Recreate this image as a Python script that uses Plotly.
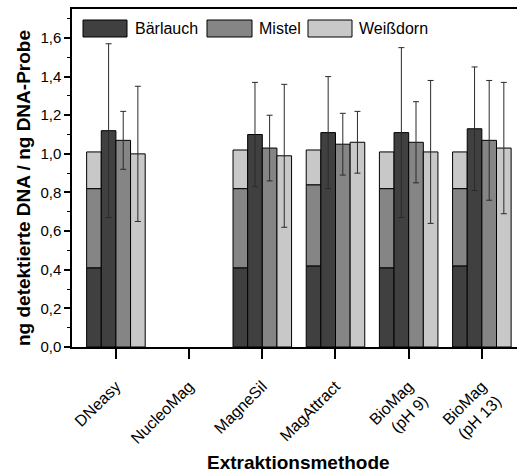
import plotly.graph_objects as go

categories = ["DNeasy", "NucleoMag", "MagneSil", "MagAttract", "BioMag<br>(pH 9)", "BioMag<br>(pH 13)"]
series_names = ["Bärlauch", "Mistel", "Weißdorn"]

# stacked reference bar (cumulative tops)
stack_baerlauch = [0.41, None, 0.41, 0.42, 0.41, 0.42]
stack_mistel_top = [0.82, None, 0.82, 0.84, 0.82, 0.82]
stack_total = [1.01, None, 1.02, 1.02, 1.01, 1.01]

baerlauch = [1.12, None, 1.10, 1.11, 1.11, 1.13]
baerlauch_err = [0.45, None, 0.27, 0.29, 0.44, 0.32]
mistel = [1.07, None, 1.03, 1.05, 1.06, 1.07]
mistel_err = [0.15, None, 0.17, 0.16, 0.21, 0.31]
weissdorn = [1.00, None, 0.99, 1.06, 1.01, 1.03]
weissdorn_err = [0.35, None, 0.37, 0.16, 0.37, 0.34]

colors = ["#404040", "#858585", "#c8c8c8"]
FONT = "Liberation Sans, Arial, sans-serif"
W, H = 517, 472
L, R, T, B = 72, 0, 9, 125

idx = list(range(len(categories)))
BW = 0.2
line = dict(color="#000000", width=1)

fig = go.Figure()

# stacked bar
lower = [0] * len(idx)
for tops, col in zip([stack_baerlauch, stack_mistel_top, stack_total], colors):
    pts = [(i, t, b) for i, t, b in zip(idx, tops, lower) if t is not None]
    fig.add_trace(go.Bar(
        x=[p[0] - 0.3 for p in pts], y=[p[1] - p[2] for p in pts], base=[p[2] for p in pts],
        width=BW, marker=dict(color=col, line=line), showlegend=False, hoverinfo="skip"))
    lower = [t if t is not None else 0 for t in tops]

# individual bars
for vals, errs, col, off in zip([baerlauch, mistel, weissdorn],
                                [baerlauch_err, mistel_err, weissdorn_err],
                                colors, [-0.1, 0.1, 0.3]):
    pts = [(i, v, e) for i, v, e in zip(idx, vals, errs) if v is not None]
    fig.add_trace(go.Bar(
        x=[p[0] + off for p in pts], y=[p[1] for p in pts], width=BW,
        marker=dict(color=col, line=line),
        error_y=dict(type="data", array=[p[2] for p in pts], color="#2a2a2a",
                     thickness=1, width=3),
        showlegend=False))

# custom legend
pw = W - L - R
ph = H - T - B
def px2x(px):
    return (px - L) / pw
def px2y(py):
    return (H - B - py) / ph

legend_items = [(83, 127, 133), (207, 252, 257), (308, 352, 357)]
for (x0, x1, tx), name, col in zip(legend_items, series_names, colors):
    fig.add_shape(type="rect", xref="paper", yref="paper",
                  x0=px2x(x0), x1=px2x(x1), y0=px2y(37), y1=px2y(20),
                  fillcolor=col, line=dict(color="#000000", width=1))
    fig.add_annotation(xref="paper", yref="paper", x=px2x(tx), y=px2y(28.5),
                       text=name, showarrow=False, xanchor="left", yanchor="middle",
                       font=dict(family=FONT, size=16, color="#000"))

# axis titles
fig.add_annotation(xref="paper", yref="paper", x=px2x(298), y=px2y(462),
                   text="<b>Extraktionsmethode</b>", showarrow=False,
                   xanchor="center", yanchor="middle",
                   font=dict(family=FONT, size=19, color="#000"))
fig.add_annotation(xref="paper", yref="paper", x=px2x(24), y=px2y(188),
                   text="<b>ng detektierte DNA / ng DNA-Probe</b>", showarrow=False,
                   textangle=-90, xanchor="center", yanchor="middle",
                   font=dict(family=FONT, size=19, color="#000"))

fig.update_layout(
    width=W, height=H,
    margin=dict(l=L, r=R, t=T, b=B),
    paper_bgcolor="white", plot_bgcolor="white",
    barmode="overlay", separators=",.",
    font=dict(family=FONT, size=15, color="#000"),
    showlegend=False,
)
fig.update_xaxes(
    range=[-0.6, 5.48], tickmode="array", tickvals=idx, ticktext=categories,
    tickangle=-45, ticks="outside", ticklen=10, tickwidth=1.5, tickcolor="#000",
    ticklabelstandoff=12,
    showline=True, linecolor="#000", linewidth=1.5, mirror=True,
    showgrid=False, zeroline=False, tickfont=dict(family=FONT, size=16),
    automargin=False,
)
fig.update_yaxes(
    range=[0, 1.75], tickmode="linear", tick0=0, dtick=0.2, tickformat=".1f",
    ticks="outside", ticklen=6, tickwidth=1.5, tickcolor="#000",
    minor=dict(dtick=0.1, ticks="outside", ticklen=3, tickwidth=1, tickcolor="#000"),
    showline=True, linecolor="#000", linewidth=1.5, mirror=False,
    showgrid=False, zeroline=False, tickfont=dict(family=FONT, size=15),
    automargin=False,
)

fig.write_html("out.html")
